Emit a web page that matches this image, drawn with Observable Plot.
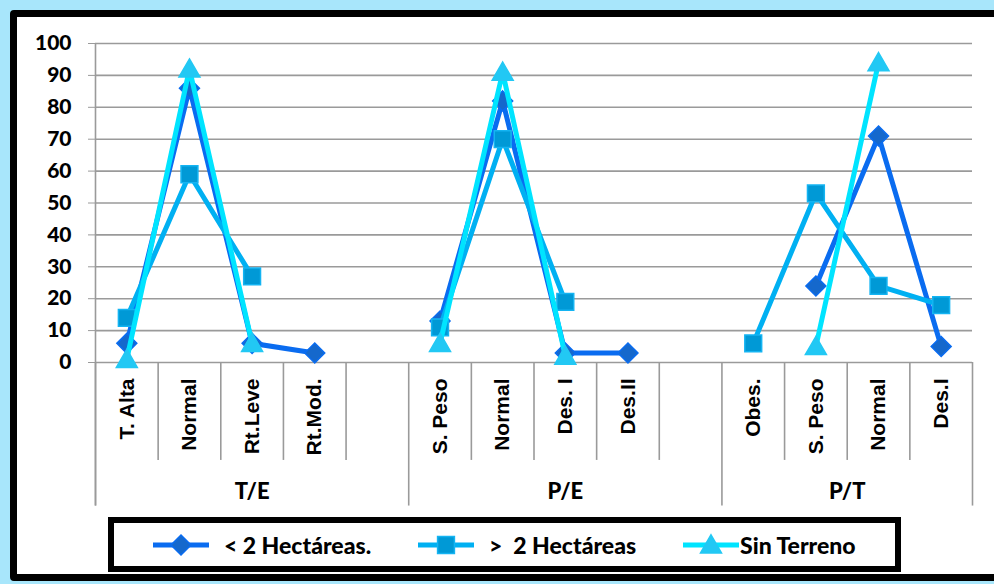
<!DOCTYPE html>
<html><head><meta charset="utf-8">
<script src="https://cdn.jsdelivr.net/npm/d3@7"></script>
<script src="https://cdn.jsdelivr.net/npm/@observablehq/plot@0.6"></script>
<style>
html,body{margin:0;padding:0;width:994px;height:584px;overflow:hidden;background:#a8e6fb;}
#frame{position:absolute;left:10px;top:10px;width:1000px;height:557px;background:#fff;border:7px solid #000;border-radius:4px;}
#chart{position:absolute;left:0;top:0;}
#legend{position:absolute;left:108px;top:517px;width:781px;height:43px;border:6px solid #000;background:#fff;font-family:Lato,"Open Sans",sans-serif;font-weight:900;font-size:23px;color:#000;}
#legend .item{position:absolute;top:0;height:43px;display:flex;align-items:center;white-space:pre;}
#legend svg{display:block;}
</style></head>
<body>
<div id="frame"></div>
<div id="chart"></div>
<div id="legend"></div>
<script>
const groups = ["T/E", "P/E", "P/T"];
const categories = ["T. Alta","Normal","Rt.Leve","Rt.Mod.","","S. Peso","Normal","Des. I","Des.II","","Obes.","S. Peso","Normal","Des.I"];
const categoryGroup = ["T/E","T/E","T/E","T/E","T/E","P/E","P/E","P/E","P/E","P/E","P/T","P/T","P/T","P/T"];
const seriesNames = ["< 2 Hectáreas.", ">  2 Hectáreas", "Sin Terreno"];
const menos2 = [6, 86, 6, 3, null, 13, 82, 3, 3, null, null, 24, 71, 5];
const mas2 = [14, 59, 27, null, null, 11, 70, 19, null, null, 6, 53, 24, 18];
const sinTerreno = [1, 92, 6, null, null, 6, 91, 2, null, null, null, 5, 94, null];
const yTicks = [0,10,20,30,40,50,60,70,80,90,100];

const seriesStyle = [
  {values: menos2, line: "#0a6cf0", fill: "#1568cc", mstroke: "#0a6cf0", symbol: "diamond2", r: 9, dy: 0},
  {values: mas2, line: "#00b0f2", fill: "#0099d6", mstroke: "#14b4f2", symbol: "square", r: 9.5, dy: 0},
  {values: sinTerreno, line: "#00e4ff", fill: "#22c8f4", mstroke: "#22c8f4", symbol: "triangle", r: 7.8, dy: 2}
];

const idx = categories.map((c, i) => i);
const shortDiv = idx.filter(i => i < categories.length - 1 && categoryGroup[i] === categoryGroup[i + 1]).map(i => i + 0.5);
const longDiv = [-0.5, ...idx.filter(i => i === categories.length - 1 || categoryGroup[i] !== categoryGroup[i + 1]).map(i => i + 0.5)];
const groupCenters = groups.map(g => {
  const ii = idx.filter(i => categoryGroup[i] === g);
  return {g, x: (ii[0] + ii[ii.length - 1]) / 2};
});
const catRows = idx.filter(i => categories[i] !== "").map(i => ({i, label: categories[i]}));

const marks = [
  Plot.ruleY(yTicks, {stroke: "#9a9a9a", strokeWidth: 1.6}),
  Plot.axisY({ticks: yTicks, label: null, tickSize: 7, tickPadding: 17, stroke: "#9a9a9a", fill: "#000", fontSize: 21, fontWeight: 900, fontFamily: "Lato, 'Open Sans', sans-serif"}),
  Plot.ruleX([-0.5], {y1: 100, y2: -45, stroke: "#9a9a9a", strokeWidth: 1.6}),
  Plot.ruleX(shortDiv, {y1: 0, y2: -30.7, stroke: "#9a9a9a", strokeWidth: 1.6}),
  Plot.ruleX(longDiv, {y1: 0, y2: -45, stroke: "#9a9a9a", strokeWidth: 1.6}),
  Plot.text(catRows, {x: "i", y: -5, text: "label", rotate: -90, textAnchor: "end", fontSize: 21, fontWeight: "bold", fontFamily: "'Liberation Sans', Arial, sans-serif", fill: "#000"}),
  Plot.text(groupCenters, {x: "x", y: -40.6, text: "g", fontSize: 22, fontWeight: 900, fontFamily: "Lato, 'Open Sans', sans-serif", fill: "#000"})
];
seriesStyle.forEach((s, k) => {
  const rows = s.values.map((v, i) => ({i, v, name: seriesNames[k]}));
  marks.push(Plot.line(rows, {x: "i", y: "v", stroke: s.line, strokeWidth: 5, strokeLinejoin: "round", strokeLinecap: "butt"}));
  marks.push(Plot.dot(rows.filter(d => d.v != null), {x: "i", y: "v", symbol: s.symbol, r: s.r, fill: s.fill, stroke: s.mstroke, strokeWidth: 1.5, dy: s.dy}));
});

const chart = Plot.plot({
  width: 994, height: 584,
  marginLeft: 95, marginRight: 22, marginTop: 43, marginBottom: 222,
  style: {background: "transparent", overflow: "visible"},
  x: {type: "linear", domain: [-0.5, categories.length - 0.5], axis: null},
  y: {domain: [0, 100], axis: null},
  marks
});
document.getElementById("chart").appendChild(chart);

// legend
const legend = document.getElementById("legend");
const itemLeft = [38, 303, 568];
const gap = [14, 14, 0];
seriesStyle.forEach((s, k) => {
  const item = document.createElement("div");
  item.className = "item";
  item.style.left = itemLeft[k] + "px";
  const ns = "http://www.w3.org/2000/svg";
  const svg = document.createElementNS(ns, "svg");
  svg.setAttribute("width", 58); svg.setAttribute("height", 24);
  svg.style.marginRight = gap[k] + "px";
  const ln = document.createElementNS(ns, "line");
  ln.setAttribute("x1", 1); ln.setAttribute("x2", 57); ln.setAttribute("y1", 12); ln.setAttribute("y2", 12);
  ln.setAttribute("stroke", s.line); ln.setAttribute("stroke-width", 5);
  svg.appendChild(ln);
  const sym = {diamond2: d3.symbolDiamond2, square: d3.symbolSquare, triangle: d3.symbolTriangle}[s.symbol];
  const p = document.createElementNS(ns, "path");
  p.setAttribute("d", d3.symbol(sym, Math.PI * s.r * s.r)());
  p.setAttribute("transform", `translate(29,${12 + (s.dy || 0)})`);
  p.setAttribute("fill", s.fill); p.setAttribute("stroke", s.mstroke); p.setAttribute("stroke-width", 1.5);
  svg.appendChild(p);
  item.appendChild(svg);
  const t = document.createElement("span");
  t.textContent = seriesNames[k];
  item.appendChild(t);
  legend.appendChild(item);
});
</script>
</body></html>
